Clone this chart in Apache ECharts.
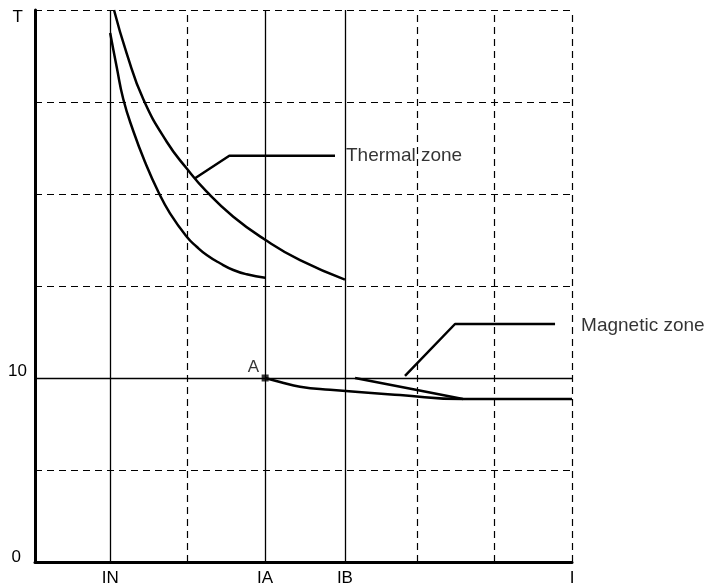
<!DOCTYPE html>
<html>
<head>
<meta charset="utf-8">
<script src="https://cdn.jsdelivr.net/npm/echarts@6/dist/echarts.min.js"></script>
<style>
html, body { margin: 0; padding: 0; background: #fff; }
#chart { width: 708px; height: 587px; }
</style>
</head>
<body>
<div id="chart"></div>
<script>
// x runs 0..7, y runs 0..6 (grid units of the sketch)
// vertical grid lines are not evenly spaced in the drawing
var xGridLines = [0.98, 1.98, 3.0, 4.04, 4.98, 5.98, 7];
var xSolidLines = [0.98, 3.0, 4.04];
var xTickValues = [0.98, 3.0, 4.04, 7];
var xTickLabels = ['IN', 'IA', 'IB', 'I'];
var yTickValues = [0, 2, 6];
var yTickLabels = ['0', '10', 'T'];
var ySolidLines = [2];

// thermal zone curves
var thermalLower = [[0.98, 5.75], [1.065, 5.38], [1.151, 5.03], [1.281, 4.685], [1.434, 4.348], [1.607, 4.025], [1.76, 3.79], [1.978, 3.536], [2.108, 3.427], [2.238, 3.337], [2.412, 3.247], [2.585, 3.174], [2.76, 3.127], [3.0, 3.09]];
var thermalUpper = [[1.03, 6.0], [1.195, 5.529], [1.412, 5.029], [1.717, 4.568], [1.978, 4.277], [2.238, 4.025], [2.585, 3.753], [2.989, 3.508], [3.455, 3.28], [4.04, 3.07]];

// magnetic zone curves
var magneticLower = [[3.0, 2.0], [3.194, 1.957], [3.455, 1.905], [3.846, 1.872], [4.758, 1.815], [5.579, 1.772], [7.0, 1.772]];
var magneticUpper = [[4.172, 2.0], [4.98, 1.87], [5.579, 1.772]];

// leader lines and their captions
var thermalLeader = [[2.086, 4.171], [2.533, 4.416], [3.911, 4.416]];
var magneticLeader = [[4.823, 2.022], [5.475, 2.587], [6.779, 2.587]];
var captions = [
    { name: 'Thermal zone', value: [4.054, 4.416] },
    { name: 'Magnetic zone', value: [7.118, 2.57] }
];
var pointA = [3.0, 2];

var myChart = echarts.init(document.getElementById('chart'));
var font = 'Liberation Sans, Arial, sans-serif';

function curve(data, smooth) {
    return {
        type: 'line',
        data: data,
        smooth: smooth ? 0.5 : false,
        smoothConstraint: false,
        symbol: 'none',
        lineStyle: { color: '#000', width: 2.5 },
        silent: true
    };
}

// solid lines on top of the dashed grid
var solidLines = [];
xSolidLines.forEach(function (x) {
    solidLines.push([{ coord: [x, 0] }, { coord: [x, 6] }]);
});
ySolidLines.forEach(function (y) {
    solidLines.push([{ coord: [0, y] }, { coord: [7, y] }]);
});
// dashed vertical grid lines
var dashedLines = [];
xGridLines.forEach(function (x) {
    if (xSolidLines.indexOf(x) < 0) {
        dashedLines.push([{ coord: [x, 0] }, { coord: [x, 6] }]);
    }
});

var option = {
    animation: false,
    grid: { left: 35, right: 136, top: 10, bottom: 25 },
    xAxis: {
        type: 'value',
        min: 0,
        max: 7,
        axisLine: { lineStyle: { color: '#000', width: 3 } },
        axisTick: { show: false },
        splitLine: { show: false },
        axisLabel: {
            customValues: xTickValues,
            margin: 8,
            color: '#000',
            fontSize: 17,
            fontFamily: font,
            formatter: function (v) {
                var i = xTickValues.indexOf(v);
                return i < 0 ? '' : xTickLabels[i];
            }
        }
    },
    yAxis: {
        type: 'value',
        min: 0,
        max: 6,
        interval: 1,
        axisLine: { lineStyle: { color: '#000', width: 3 } },
        axisTick: { show: false },
        splitLine: { lineStyle: { color: '#000', type: [7, 5], width: 1.2 } },
        axisLabel: {
            margin: 8,
            color: '#000',
            fontSize: 17,
            fontFamily: font,
            formatter: function (v) {
                var i = yTickValues.indexOf(v);
                if (i < 0) return '';
                return '{s' + i + '|' + yTickLabels[i] + '}';
            },
            rich: {
                s0: { fontSize: 17, fontFamily: font, color: '#000', padding: [0, 6, 10, 0] },
                s1: { fontSize: 17, fontFamily: font, color: '#000', padding: [0, 0, 14, 0] },
                s2: { fontSize: 17, fontFamily: font, color: '#000', padding: [14, 4, 0, 0] }
            }
        }
    },
    series: [
        {
            type: 'line',
            data: [],
            markLine: {
                silent: true,
                symbol: ['none', 'none'],
                label: { show: false },
                lineStyle: { color: '#000', type: [7, 5], width: 1.2 },
                data: dashedLines
            }
        },
        {
            type: 'line',
            data: [],
            markLine: {
                silent: true,
                symbol: ['none', 'none'],
                label: { show: false },
                lineStyle: { color: '#000', type: 'solid', width: 1.3 },
                data: solidLines
            }
        },
        curve(thermalLower, true),
        curve(thermalUpper, true),
        curve(magneticLower, true),
        curve(magneticUpper, true),
        curve(thermalLeader, false),
        curve(magneticLeader, false),
        {
            type: 'scatter',
            data: [pointA],
            symbol: 'rect',
            symbolSize: 7,
            itemStyle: { color: '#000' },
            silent: true,
            label: {
                show: true,
                formatter: 'A',
                position: [-14, -16],
                color: '#000',
                fontSize: 17,
                fontFamily: font
            }
        },
        {
            type: 'scatter',
            data: captions,
            symbolSize: 0,
            clip: false,
            silent: true,
            label: {
                show: true,
                formatter: '{b}',
                position: 'right',
                distance: 0,
                color: '#000',
                fontSize: 19,
                fontFamily: font
            }
        }
    ]
};

myChart.setOption(option);
window.addEventListener('resize', function () {
    myChart.resize();
});
</script>
</body>
</html>
